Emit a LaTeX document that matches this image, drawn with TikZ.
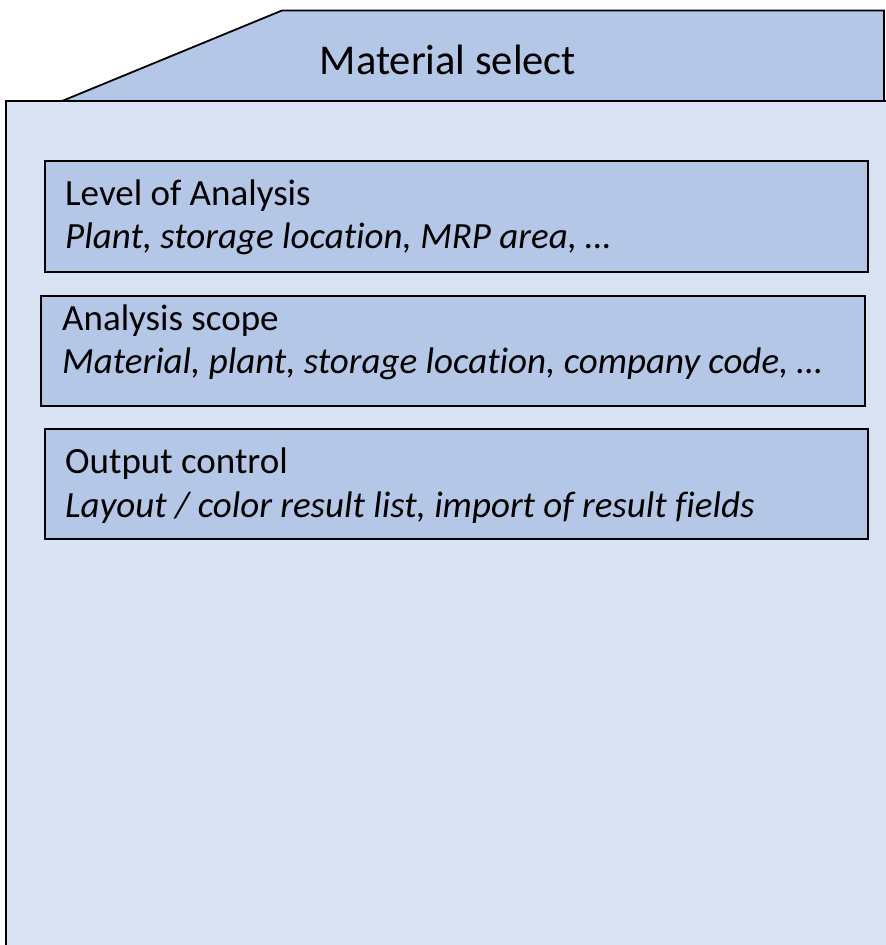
\documentclass[tikz,border=0pt]{standalone}
\usepackage{fontspec}
\setmainfont{Carlito}[Ligatures=NoCommon]
\definecolor{tabblue}{HTML}{B4C7E7}
\definecolor{bodyblue}{HTML}{DAE3F3}
\tikzset{
  outline/.style={draw=black, line width=1.8pt, line join=miter},
  box/.style={draw=black, line width=1.5pt, fill=tabblue, anchor=north west, inner sep=0pt},
  lbl/.style={anchor=base west, inner sep=0pt, font=\fontsize{37}{43}\selectfont},
  ilbl/.style={lbl, font=\fontsize{37}{43}\selectfont\itshape},
}
\begin{document}
\begin{tikzpicture}[x=1pt,y=-1pt]
\clip (0,0) rectangle (886,945);
\useasboundingbox (0,0) rectangle (886,945);
% body
\path[outline, fill=bodyblue] (6,960) -- (6,101) -- (900,101) -- (900,960) -- cycle;
% tab
\path[outline, fill=tabblue] (62,101) -- (282,10.5) -- (884,10.5) -- (884,101) -- cycle;
\node[lbl, anchor=base, font=\fontsize{42.5}{50}\selectfont] (title) at (448,74) {Material select};
% boxes
\node[box, minimum width=823pt, minimum height=111pt] (lvl) at (44,160) {};
\node[lbl] (lvlA) at (65,205) {Level of Analysis};
\node[ilbl] (lvlB) at (65,248) {Plant, storage location, MRP area, …};
\node[box, minimum width=824pt, minimum height=110pt] (scope) at (40,295) {};
\node[lbl] (scopeA) at (62,330) {Analysis scope};
\node[ilbl] (scopeB) at (62,373) {Material, plant, storage location, company code, …};
\node[box, minimum width=823pt, minimum height=110pt] (out) at (44,428) {};
\node[lbl] (outA) at (65,473) {Output control};
\node[ilbl] (outB) at (65,517) {Layout / color result list, import of result fields};
\end{tikzpicture}
\end{document}
